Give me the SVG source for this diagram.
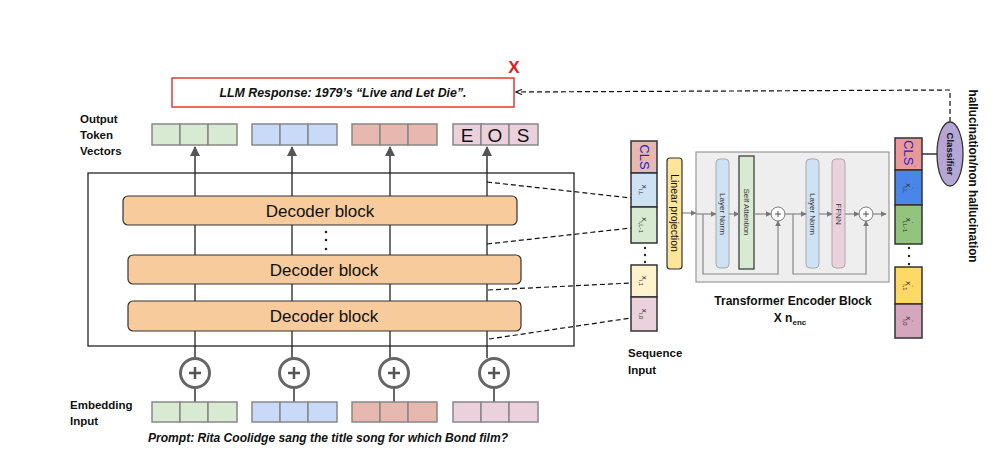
<svg xmlns="http://www.w3.org/2000/svg" width="997" height="454" viewBox="0 0 997 454">
<defs>
<style>
.lbl{font-family:"Liberation Sans",Arial,sans-serif;font-weight:bold;font-size:11.5px;fill:#111}
.dec{fill:#f8cb9c;stroke:#333;stroke-width:1.2}
.dect{font-family:"Liberation Sans",Arial,sans-serif;font-size:17px;fill:#111;text-anchor:middle}
.cell{stroke:#888;stroke-width:1.5}
.scell{stroke:#333;stroke-width:1.5}
.dash{stroke:#111;stroke-width:1.2;stroke-dasharray:5 3;fill:none}
.vl{stroke:#222;stroke-width:1.3}
.gl{stroke:#666;stroke-width:2}
.enc{stroke:#888;stroke-width:1.2;fill:none}
.small{font-family:"Liberation Sans",Arial,sans-serif;font-size:8px;fill:#333;text-anchor:middle;dominant-baseline:central}
.ital{font-family:"Liberation Sans",Arial,sans-serif;font-weight:bold;font-style:italic;font-size:12.5px;fill:#111}
</style>
<marker id="ag" viewBox="0 0 10 10" refX="9" refY="5" markerWidth="10" markerHeight="11" markerUnits="userSpaceOnUse" orient="auto"><path d="M0,0 L10,5 L0,10 z" fill="#555"/></marker>
<marker id="as" viewBox="0 0 10 10" refX="9" refY="5" markerWidth="6" markerHeight="6" markerUnits="userSpaceOnUse" orient="auto"><path d="M0,0 L10,5 L0,10 z" fill="#777"/></marker>
<marker id="ao" viewBox="0 0 10 10" refX="9" refY="5" markerWidth="7" markerHeight="7" markerUnits="userSpaceOnUse" orient="auto"><path d="M0,1 L9,5 L0,9" fill="none" stroke="#111" stroke-width="1.5"/></marker>
</defs>
<rect width="997" height="454" fill="#fff"/>

<g id="connectors">
  <line class="vl" x1="195" y1="173" x2="195" y2="346"/>
  <line class="vl" x1="292" y1="173" x2="292" y2="346"/>
  <line class="vl" x1="390" y1="173" x2="390" y2="346"/>
  <line class="vl" x1="487" y1="173" x2="487" y2="346"/>
  <line class="gl" x1="195" y1="173" x2="195" y2="147" marker-end="url(#ag)"/>
  <line class="gl" x1="292" y1="173" x2="292" y2="147" marker-end="url(#ag)"/>
  <line class="gl" x1="390" y1="173" x2="390" y2="147" marker-end="url(#ag)"/>
  <line class="gl" x1="487" y1="173" x2="487" y2="147" marker-end="url(#ag)"/>
  <line class="gl" x1="195" y1="346" x2="195" y2="358"/>
  <line class="gl" x1="292" y1="346" x2="292" y2="358"/>
  <line class="gl" x1="390" y1="346" x2="390" y2="358"/>
  <line class="gl" x1="487" y1="346" x2="487" y2="358"/>
  <line class="gl" x1="195" y1="388" x2="195" y2="402"/>
  <line class="gl" x1="294" y1="388" x2="294" y2="402"/>
  <line class="gl" x1="394" y1="388" x2="394" y2="402"/>
  <line class="gl" x1="494" y1="388" x2="494" y2="402"/>
  <line class="dash" x1="487" y1="182" x2="631" y2="198"/>
  <line class="dash" x1="487" y1="244" x2="631" y2="228"/>
  <line class="dash" x1="488" y1="290" x2="631" y2="283"/>
  <line class="dash" x1="489" y1="339" x2="631" y2="318"/>
  <path class="dash" d="M950,122 L950,90 L516,92" marker-end="url(#ao)"/>
  <line x1="922" y1="154" x2="937" y2="154" stroke="#111" stroke-width="1.3"/>
  <line class="enc" x1="682" y1="213" x2="696" y2="213" marker-end="url(#as)"/>
</g>

<g id="llm-response">
  <rect x="172" y="78" width="342" height="29" fill="#fff" stroke="#e53935" stroke-width="1.5"/>
  <text class="ital" x="343" y="97" text-anchor="middle" textLength="247" lengthAdjust="spacingAndGlyphs">LLM Response: 1979’s “Live and Let Die”.</text>
  <text x="514" y="73" font-family="Liberation Sans,Arial,sans-serif" font-weight="bold" font-size="17" fill="#e0201b" text-anchor="middle">X</text>
</g>

<g id="output-label">
  <text class="lbl" x="80" y="123">Output</text>
  <text class="lbl" x="80" y="139">Token</text>
  <text class="lbl" x="80" y="155">Vectors</text>
</g>

<g id="output-tokens">
  <g fill="#d9ead3"><rect class="cell" x="152" y="124" width="28" height="21"/><rect class="cell" x="180" y="124" width="28" height="21"/><rect class="cell" x="208" y="124" width="29" height="21"/></g>
  <g fill="#c9daf8"><rect class="cell" x="252" y="124" width="28" height="21"/><rect class="cell" x="280" y="124" width="28" height="21"/><rect class="cell" x="308" y="124" width="29" height="21"/></g>
  <g fill="#e6b8af"><rect class="cell" x="352" y="124" width="28" height="21"/><rect class="cell" x="380" y="124" width="28" height="21"/><rect class="cell" x="408" y="124" width="29" height="21"/></g>
  <g fill="#ead1dc"><rect class="cell" x="453" y="124" width="28" height="21"/><rect class="cell" x="481" y="124" width="28" height="21"/><rect class="cell" x="509" y="124" width="29" height="21"/></g>
  <g font-family="Liberation Sans,Arial,sans-serif" font-size="19" fill="#111" text-anchor="middle">
    <text x="467" y="142">E</text><text x="495" y="142">O</text><text x="523" y="142">S</text>
  </g>
</g>

<g id="decoder-stack">
  <rect x="88" y="173" width="486" height="173" fill="none" stroke="#222" stroke-width="1.3"/>
</g>
<g id="decoder-block-1">
  <rect class="dec" x="123" y="196" width="394" height="29" rx="5"/>
  <text class="dect" x="320" y="217">Decoder block</text>
</g>
<g id="decoder-dots">
  <circle cx="326" cy="232" r="1.3" fill="#222"/><circle cx="326" cy="240" r="1.3" fill="#222"/><circle cx="326" cy="249" r="1.3" fill="#222"/>
</g>
<g id="decoder-block-2">
  <rect class="dec" x="128" y="255" width="393" height="29" rx="5"/>
  <text class="dect" x="324" y="276">Decoder block</text>
</g>
<g id="decoder-block-3">
  <rect class="dec" x="128" y="301" width="393" height="30" rx="5"/>
  <text class="dect" x="324" y="322">Decoder block</text>
</g>

<g id="plus-circles" fill="#fff" stroke="#666" stroke-width="3">
  <circle cx="195" cy="373" r="14.5"/><circle cx="294" cy="373" r="14.5"/><circle cx="394" cy="373" r="14.5"/><circle cx="494" cy="373" r="14.5"/>
  <path d="M189,373 h12 M195,367 v12 M288,373 h12 M294,367 v12 M388,373 h12 M394,367 v12 M488,373 h12 M494,367 v12" stroke="#555" stroke-width="2.5"/>
</g>

<g id="embedding-input">
  <g fill="#d9ead3"><rect class="cell" x="152" y="402" width="28" height="20"/><rect class="cell" x="180" y="402" width="28" height="20"/><rect class="cell" x="208" y="402" width="29" height="20"/></g>
  <g fill="#c9daf8"><rect class="cell" x="252" y="402" width="28" height="20"/><rect class="cell" x="280" y="402" width="28" height="20"/><rect class="cell" x="308" y="402" width="29" height="20"/></g>
  <g fill="#e6b8af"><rect class="cell" x="352" y="402" width="28" height="20"/><rect class="cell" x="380" y="402" width="28" height="20"/><rect class="cell" x="408" y="402" width="29" height="20"/></g>
  <g fill="#ead1dc"><rect class="cell" x="453" y="402" width="28" height="20"/><rect class="cell" x="481" y="402" width="28" height="20"/><rect class="cell" x="509" y="402" width="29" height="20"/></g>
  <text class="lbl" x="70" y="409">Embedding</text>
  <text class="lbl" x="70" y="425">Input</text>
  <text class="ital" x="328" y="442" text-anchor="middle" textLength="360" lengthAdjust="spacingAndGlyphs">Prompt: Rita Coolidge sang the title song for which Bond film?</text>
</g>

<g id="sequence-input">
  <rect class="scell" x="631" y="141" width="26" height="32" fill="#e6b8af"/>
  <rect class="scell" x="631" y="173" width="26" height="34" fill="#cfe2f3"/>
  <rect class="scell" x="631" y="207" width="26" height="36" fill="#d9ead3"/>
  <rect class="scell" x="631" y="265" width="26" height="32" fill="#fff2cc"/>
  <rect class="scell" x="631" y="297" width="26" height="34" fill="#ead1dc"/>
  <circle cx="645" cy="248" r="1.2" fill="#222"/><circle cx="645" cy="255" r="1.2" fill="#222"/><circle cx="645" cy="262" r="1.2" fill="#222"/>
  <text transform="translate(644,157) rotate(90)" font-family="Liberation Sans,Arial,sans-serif" font-size="13" fill="#2222cc" text-anchor="middle" dominant-baseline="central">CLS</text>
  <text transform="translate(644,190) rotate(90)" class="small">x<tspan font-size="6" dy="3">i,L</tspan></text>
  <text transform="translate(644,225) rotate(90)" class="small">x<tspan font-size="6" dy="3">i,L-1</tspan></text>
  <text transform="translate(644,281) rotate(90)" class="small">x<tspan font-size="6" dy="3">i,1</tspan></text>
  <text transform="translate(644,314) rotate(90)" class="small">x<tspan font-size="6" dy="3">i,0</tspan></text>
  <text class="lbl" x="628" y="357">Sequence</text>
  <text class="lbl" x="628" y="374">Input</text>
</g>

<g id="linear-projection">
  <rect x="667" y="158" width="15" height="111" rx="3" fill="#ffe599" stroke="#333" stroke-width="1.2"/>
  <text transform="translate(675,213) rotate(90)" font-family="Liberation Sans,Arial,sans-serif" font-size="10.5" fill="#111" text-anchor="middle" dominant-baseline="central">Linear projection</text>
</g>

<g id="transformer-encoder">
  <rect x="696" y="152" width="193" height="130" fill="#eeeeee" stroke="#999" stroke-width="1.2"/>
  <rect x="716" y="159" width="13" height="109" rx="4" fill="#cfe2f3" stroke="#aaa"/>
  <rect x="739" y="156" width="15" height="113" fill="#d9ead3" stroke="#333" stroke-width="1.2"/>
  <rect x="806" y="159" width="13" height="109" rx="4" fill="#cfe2f3" stroke="#aaa"/>
  <rect x="832" y="159" width="13" height="109" rx="4" fill="#ead1dc" stroke="#aaa"/>
  <circle cx="778" cy="214" r="7" fill="#fff" stroke="#777"/>
  <circle cx="866" cy="214" r="7" fill="#fff" stroke="#777"/>
  <path d="M775,214 h6 M778,211 v6 M863,214 h6 M866,211 v6" stroke="#555" stroke-width="1"/>
  <line class="enc" x1="696" y1="214" x2="716" y2="214" marker-end="url(#as)"/>
  <line class="enc" x1="729" y1="214" x2="739" y2="214" marker-end="url(#as)"/>
  <line class="enc" x1="754" y1="214" x2="771" y2="214" marker-end="url(#as)"/>
  <line class="enc" x1="785" y1="214" x2="806" y2="214" marker-end="url(#as)"/>
  <line class="enc" x1="819" y1="214" x2="832" y2="214" marker-end="url(#as)"/>
  <line class="enc" x1="845" y1="214" x2="859" y2="214" marker-end="url(#as)"/>
  <line class="enc" x1="873" y1="214" x2="886" y2="214" marker-end="url(#as)"/>
  <path class="enc" d="M703,214 V274 H778 V221" marker-end="url(#as)"/>
  <path class="enc" d="M793,214 V274 H866 V221" marker-end="url(#as)"/>
  <text transform="translate(722.5,214) rotate(90)" class="small" font-size="8">Layer Norm</text>
  <text transform="translate(746.5,212) rotate(90)" class="small" font-size="10" fill="#111">Self Attention</text>
  <text transform="translate(812.5,214) rotate(90)" class="small" font-size="8">Layer Norm</text>
  <text transform="translate(838.5,214) rotate(90)" class="small" font-size="8">FFNN</text>
  <text x="793" y="305" font-family="Liberation Sans,Arial,sans-serif" font-weight="bold" font-size="12" fill="#111" text-anchor="middle">Transformer Encoder Block</text>
  <text x="790" y="322" font-family="Liberation Sans,Arial,sans-serif" font-weight="bold" font-size="12" fill="#111" text-anchor="middle">X n<tspan font-size="8" dy="3">enc</tspan></text>
</g>

<g id="encoder-output">
  <rect class="scell" x="895" y="138" width="27" height="32" fill="#ea9999"/>
  <rect class="scell" x="895" y="170" width="27" height="35" fill="#4a86e8"/>
  <rect class="scell" x="895" y="205" width="27" height="39" fill="#93c47d"/>
  <rect class="scell" x="895" y="267" width="27" height="37" fill="#ffd966"/>
  <rect class="scell" x="895" y="304" width="27" height="34" fill="#d5a6bd"/>
  <circle cx="909" cy="248" r="1.2" fill="#222"/><circle cx="909" cy="256" r="1.2" fill="#222"/><circle cx="909" cy="264" r="1.2" fill="#222"/>
  <text transform="translate(908,154) rotate(90)" font-family="Liberation Sans,Arial,sans-serif" font-size="13" fill="#2222cc" text-anchor="middle" dominant-baseline="central">CLS<tspan font-size="8" dy="-5">´</tspan></text>
  <text transform="translate(908,188) rotate(90)" class="small" fill="#111">x<tspan font-size="6" dy="-3">´</tspan><tspan font-size="6" dx="-3" dy="6">i,L</tspan></text>
  <text transform="translate(908,225) rotate(90)" class="small" fill="#111">x<tspan font-size="6" dy="-3">´</tspan><tspan font-size="6" dx="-3" dy="6">i,L-1</tspan></text>
  <text transform="translate(908,286) rotate(90)" class="small" fill="#111">x<tspan font-size="6" dy="-3">´</tspan><tspan font-size="6" dx="-3" dy="6">i,1</tspan></text>
  <text transform="translate(908,321) rotate(90)" class="small" fill="#111">x<tspan font-size="6" dy="-3">´</tspan><tspan font-size="6" dx="-3" dy="6">i,0</tspan></text>
</g>

<g id="classifier">
  <ellipse cx="950" cy="154" rx="13" ry="32" fill="#b4a7d6" stroke="#333" stroke-width="1.3"/>
  <text transform="translate(950,154) rotate(90)" font-family="Liberation Sans,Arial,sans-serif" font-weight="bold" font-size="9.5" fill="#111" text-anchor="middle" dominant-baseline="central">Classifier</text>
</g>

<g id="hallucination-label">
  <text transform="translate(973,176) rotate(90)" font-family="Liberation Sans,Arial,sans-serif" font-weight="bold" font-size="12.5" fill="#111" text-anchor="middle" dominant-baseline="central" textLength="173" lengthAdjust="spacingAndGlyphs">hallucination/non hallucination</text>
</g>
</svg>
